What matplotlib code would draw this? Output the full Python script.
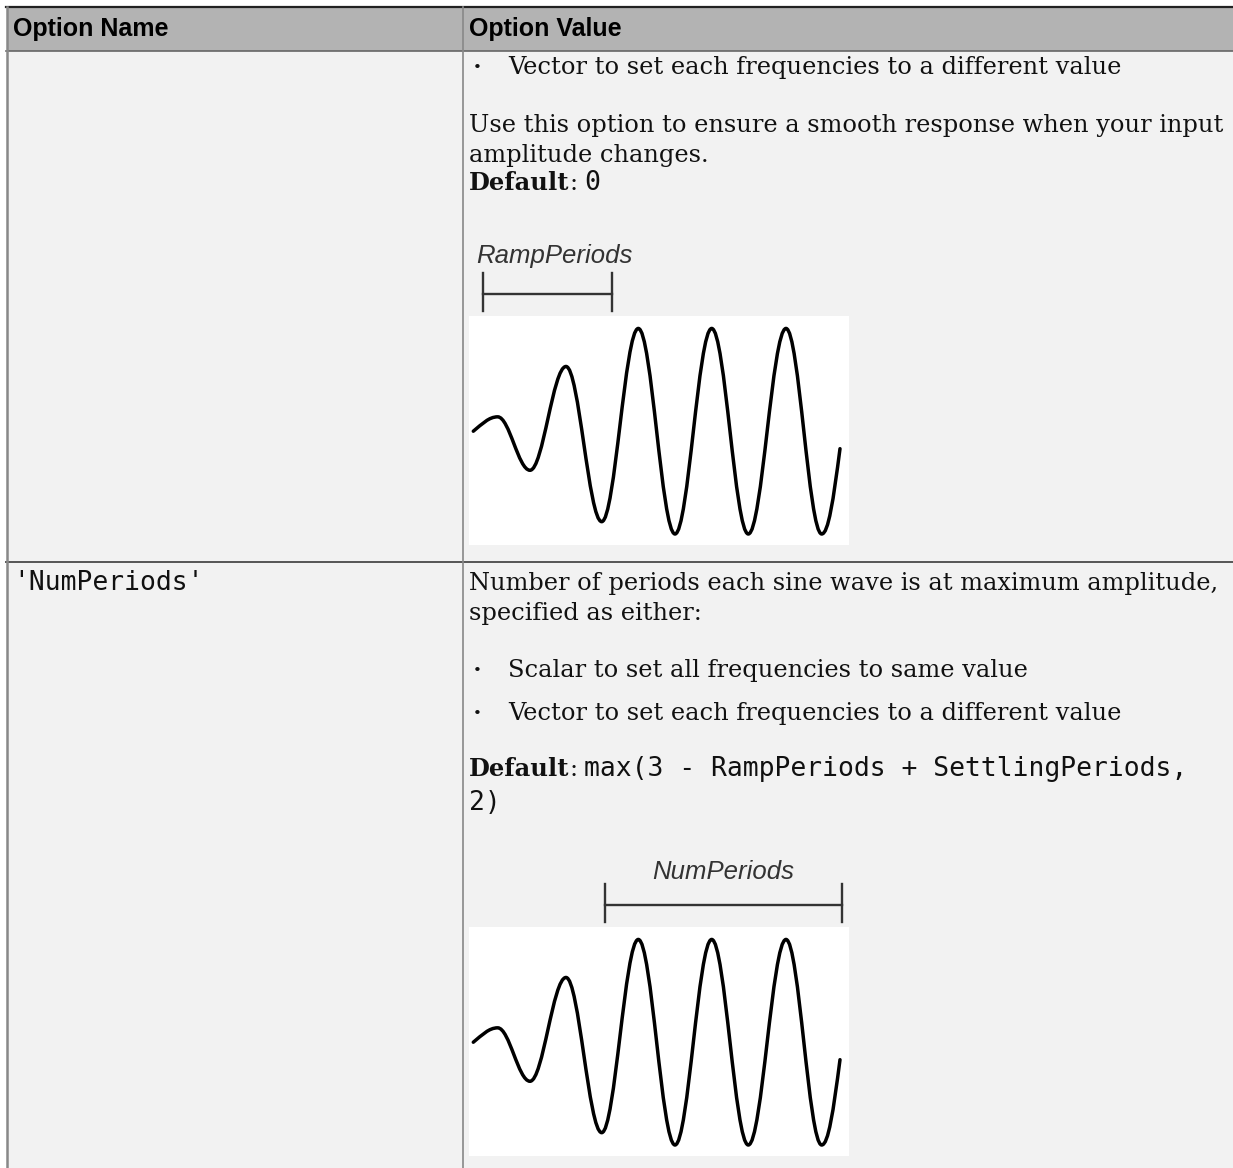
import matplotlib
matplotlib.use("Agg")
import matplotlib.pyplot as plt
from matplotlib.patches import Rectangle, PathPatch
from matplotlib.path import Path

W, H = 1233, 1168

# table text
header_labels = ["Option Name", "Option Value"]
row1_bullet = "Vector to set each frequencies to a different value"
row1_lines = ["Use this option to ensure a smooth response when your input",
              "amplitude changes."]
row1_default = "0"
row2_name = "'NumPeriods'"
row2_lines = ["Number of periods each sine wave is at maximum amplitude,",
              "specified as either:"]
row2_bullets = ["Scalar to set all frequencies to same value",
                "Vector to set each frequencies to a different value"]
row2_default = ["max(3 - RampPeriods + SettlingPeriods,", "2)"]

# wave sketch: extrema positions (px inside the image box)
# and normalised amplitude
wave_x = [4.3, 28.7, 61.0, 97.0, 132.7, 169.3, 206.0, 242.7, 279.3, 317.0, 352.7, 371.0]
wave_y = [0.0, 0.14, -0.38, 0.63, -0.88, 1.0, -1.0, 1.0, -1.0, 1.0, -1.0, -0.17]
ramp_span = [14, 143]
num_span = [136, 373]

SERIF = "DejaVu Serif"
MONO = "DejaVu Sans Mono"
SANS = "Liberation Sans"
FS = 17.4
MS = 19

fig = plt.figure(figsize=(W / 100, H / 100), dpi=100)
ax = fig.add_axes([0, 0, 1, 1])
ax.set_xlim(0, W)
ax.set_ylim(H, 0)
ax.axis("off")
r = fig.canvas.get_renderer()

# backgrounds
ax.add_patch(Rectangle((7, 7), W - 7, H - 7, color="#f2f2f2", lw=0))
ax.add_patch(Rectangle((7, 7), W - 7, 44, color="#b3b3b3", lw=0))

# grid lines
ax.plot([6, W], [7, 7], color="#222222", lw=1.6)
ax.plot([6, W], [51, 51], color="#666666", lw=1.2)
ax.plot([6, W], [562, 562], color="#555555", lw=1.4)
ax.plot([6.5, 6.5], [7, H], color="#888888", lw=1.8)
ax.plot([463, 463], [7, H], color="#888888", lw=1.2)

# header
ax.text(13, 36, header_labels[0], fontsize=18, fontweight="bold", family=SANS, va="baseline")
ax.text(469, 36, header_labels[1], fontsize=18, fontweight="bold", family=SANS, va="baseline")


def run(x, y, parts):
    for s, kw in parts:
        if s == " ":
            x += 7
            continue
        t = ax.text(x, y, s, va="baseline", ha="left", **kw)
        x += t.get_window_extent(renderer=r).width


def bullet(y, s):
    ax.text(477, y - 6, "\u2022", fontsize=11, family=SERIF, ha="center", va="center", color="#111111")
    ax.text(508, y, s, fontsize=FS, family=SERIF, va="baseline", color="#111111")


def default_line(y, code):
    run(469, y, [("Default", dict(fontsize=FS, family=SERIF, fontweight="bold", color="#111111")),
                 (":", dict(fontsize=FS, family=SERIF, color="#111111")),
                 (" ", {}),
                 (code, dict(fontsize=MS, family=MONO, color="#111111"))])


# row 1
bullet(74, row1_bullet)
for i, s in enumerate(row1_lines):
    ax.text(469, 132 + 30 * i, s, fontsize=FS, family=SERIF, va="baseline", color="#111111")
default_line(190, row1_default)

# row 2
ax.text(13, 590, row2_name, fontsize=MS, family=MONO, va="baseline", color="#111111")
for i, s in enumerate(row2_lines):
    ax.text(469, 590 + 30 * i, s, fontsize=FS, family=SERIF, va="baseline", color="#111111")
for i, s in enumerate(row2_bullets):
    bullet(677 + 43 * i, s)
default_line(776, row2_default[0])
ax.text(469, 810, row2_default[1], fontsize=MS, family=MONO, va="baseline", color="#111111")


def wave_path(xs, ys):
    k = 0.3634
    verts = [(xs[0], ys[0])]
    codes = [Path.MOVETO]
    n = len(xs)
    for i in range(n - 1):
        x0, y0, x1, y1 = xs[i], ys[i], xs[i + 1], ys[i + 1]
        dx, dy = x1 - x0, y1 - y0
        c1 = (x0 + k * dx, y0 + (0.5 * dy if i == 0 else 0))
        c2 = (x1 - k * dx, y1 - (0.6 * dy if i + 1 == n - 1 else 0))
        verts += [c1, c2, (x1, y1)]
        codes += [Path.CURVE4] * 3
    return Path(verts, codes)


def sketch(top, span, label, label_x, label_y):
    box_l, box_w, box_h = 469, 380, 229
    wax = fig.add_axes([box_l / W, 1 - (top + box_h) / H, box_w / W, box_h / H])
    wax.set_facecolor("white")
    for s in wax.spines.values():
        s.set_visible(False)
    wax.set_xticks([])
    wax.set_yticks([])
    wax.set_xlim(0, box_w)
    wax.set_ylim(-1.107, 1.121)
    wax.add_patch(PathPatch(wave_path(wave_x, wave_y), fill=False, lw=2.5,
                            edgecolor="black", capstyle="round", joinstyle="round"))
    # span bar above the image
    bx = [box_l + span[0], box_l + span[1]]
    by = top - 22
    ax.plot(bx, [by, by], color="#333333", lw=1.7)
    for xx in bx:
        ax.plot([xx, xx], [by - 21, by + 17], color="#333333", lw=1.7)
    ax.text(label_x, label_y, label, fontsize=18.5, family=SANS, style="italic",
            color="#333333", va="baseline", ha="center")


sketch(316, ramp_span, "RampPeriods", 554, 263)
sketch(927, num_span, "NumPeriods", 723, 879)

fig.savefig("out.png", dpi=100)
